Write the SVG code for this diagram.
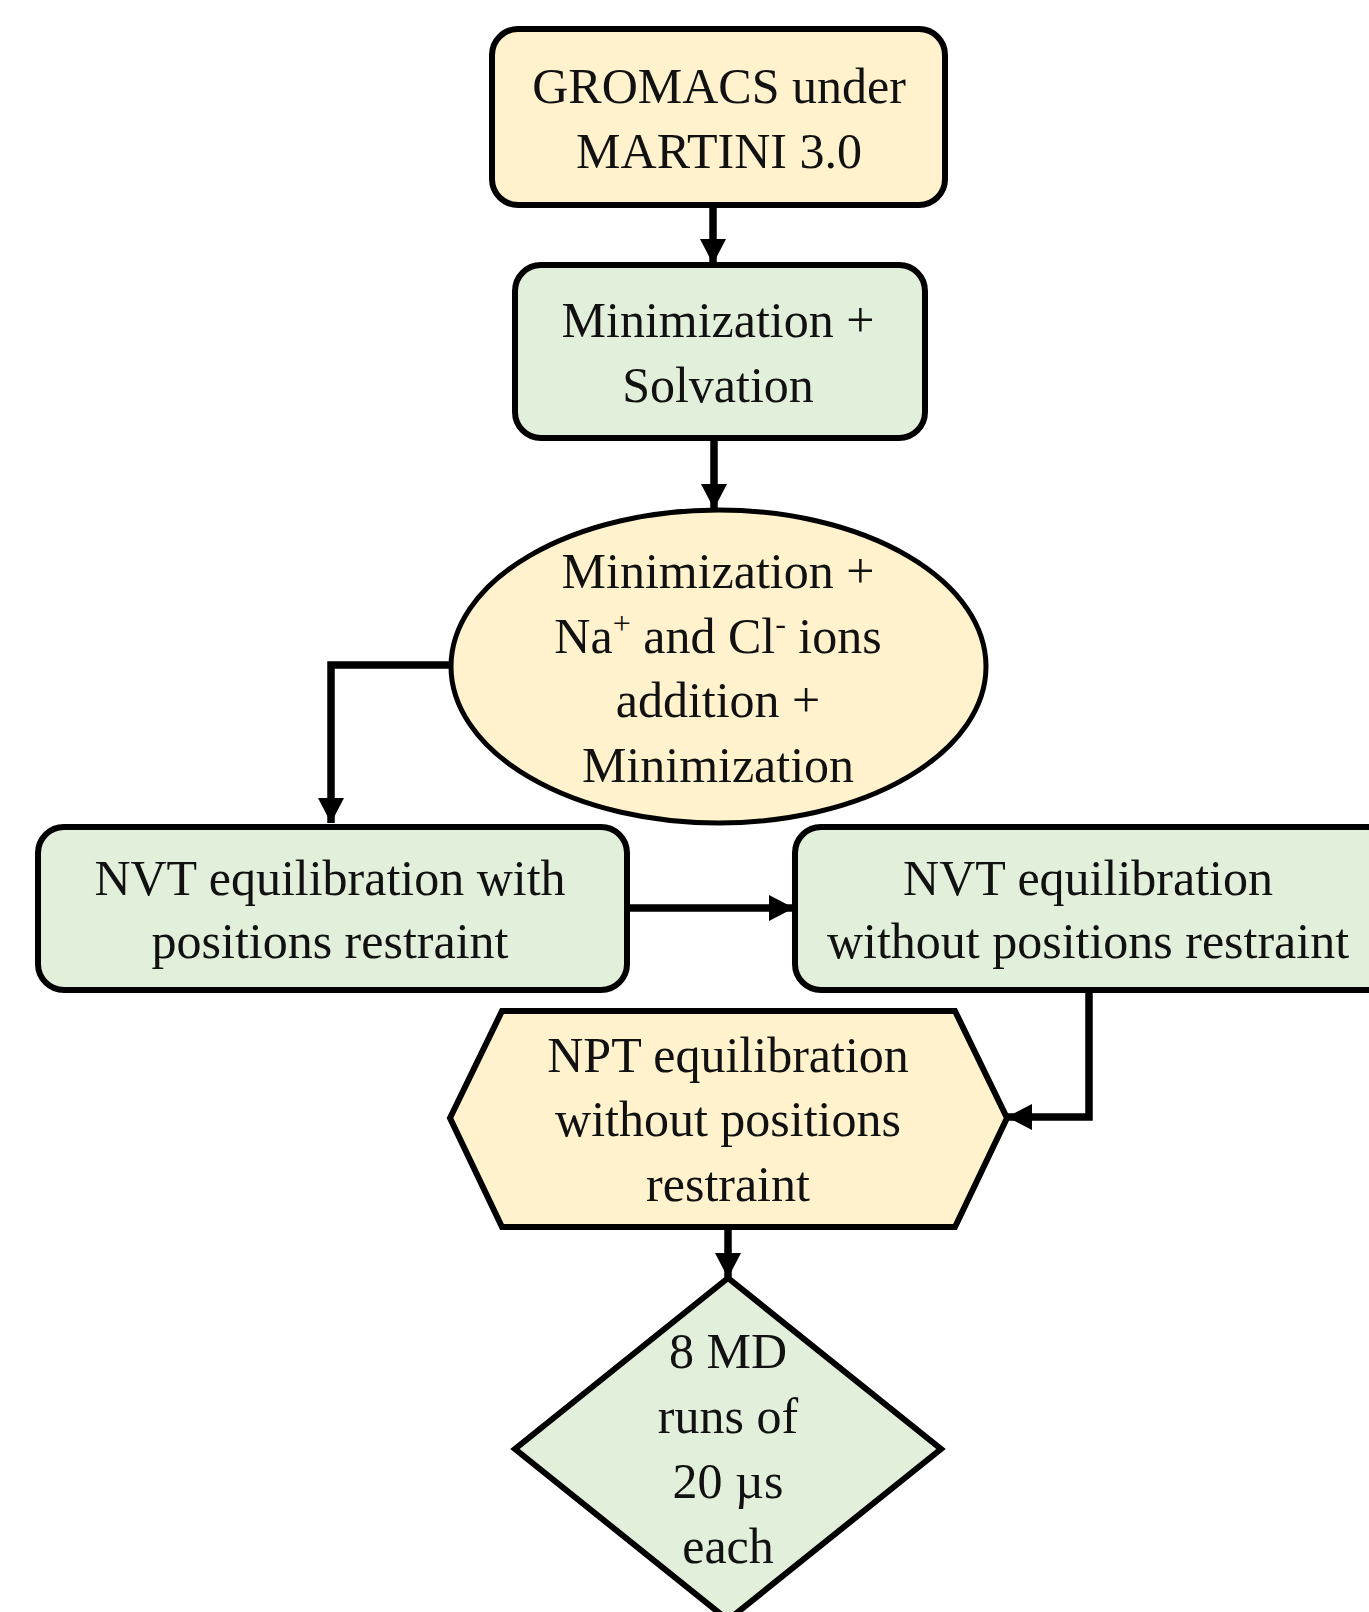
<svg xmlns="http://www.w3.org/2000/svg" width="1369" height="1612" viewBox="0 0 1369 1612">
<style>
.y{fill:#FFF2CC;stroke:#000;stroke-width:6}
.g{fill:#E2EFDA;stroke:#000;stroke-width:6}
.t{font-family:"Liberation Serif","Times New Roman",serif;font-size:50px;fill:#111;text-anchor:middle}
.c{fill:none;stroke:#000;stroke-width:7.5;stroke-linejoin:miter}
</style>
<defs>
<marker id="ah" markerUnits="userSpaceOnUse" markerWidth="26" markerHeight="26" refX="25" refY="13" orient="auto" viewBox="0 0 26 26">
<path d="M0,0 L25,13 L0,26 z" fill="#000"/>
</marker>
</defs>
<rect width="1369" height="1612" fill="#fff"/>
<g id="connectors">
<line class="c" x1="713" y1="205" x2="713" y2="264" marker-end="url(#ah)"/>
<line class="c" x1="714" y1="438" x2="714" y2="509" marker-end="url(#ah)"/>
<polyline class="c" points="452,665 331,665 331,823" marker-end="url(#ah)"/>
<line class="c" x1="627" y1="908" x2="794" y2="908" marker-end="url(#ah)"/>
<polyline class="c" points="1089,991 1089,1117 1007,1117" marker-end="url(#ah)"/>
<line class="c" x1="728" y1="1227" x2="728" y2="1278" marker-end="url(#ah)"/>
</g>
<g id="n1">
<rect class="y" x="492" y="29" width="453" height="176" rx="26"/>
<text class="t" x="719" y="103">GROMACS under</text>
<text class="t" x="719" y="168">MARTINI 3.0</text>
</g>
<g id="n2">
<rect class="g" x="515" y="265" width="410" height="173" rx="26"/>
<text class="t" x="718" y="337">Minimization +</text>
<text class="t" x="718" y="402">Solvation</text>
</g>
<g id="n3">
<ellipse class="y" cx="718.5" cy="666.5" rx="267.5" ry="156.5" style="stroke-width:5"/>
<text class="t" x="718" y="588">Minimization +</text>
<text class="t" x="718" y="653">Na<tspan font-size="32" dy="-19">+</tspan><tspan dy="19"> and Cl</tspan><tspan font-size="32" dy="-19">-</tspan><tspan dy="19"> ions</tspan></text>
<text class="t" x="718" y="717">addition +</text>
<text class="t" x="718" y="782">Minimization</text>
</g>
<g id="n4">
<rect class="g" x="38" y="827" width="589" height="163" rx="26"/>
<text class="t" x="330" y="895">NVT equilibration with</text>
<text class="t" x="330" y="958">positions restraint</text>
</g>
<g id="n5">
<rect class="g" x="795" y="827" width="600" height="163" rx="26"/>
<text class="t" x="1088" y="895">NVT equilibration</text>
<text class="t" x="1088" y="958">without positions restraint</text>
</g>
<g id="n6">
<polygon class="y" points="450,1118 502,1011 955,1011 1007,1118 955,1227 502,1227"/>
<text class="t" x="728" y="1072">NPT equilibration</text>
<text class="t" x="728" y="1136">without positions</text>
<text class="t" x="728" y="1201">restraint</text>
</g>
<g id="n7">
<polygon class="g" points="728,1278 941,1449 728,1620 515,1449"/>
<text class="t" x="728" y="1368">8 MD</text>
<text class="t" x="728" y="1433">runs of</text>
<text class="t" x="728" y="1498">20 µs</text>
<text class="t" x="728" y="1563">each</text>
</g>
</svg>
